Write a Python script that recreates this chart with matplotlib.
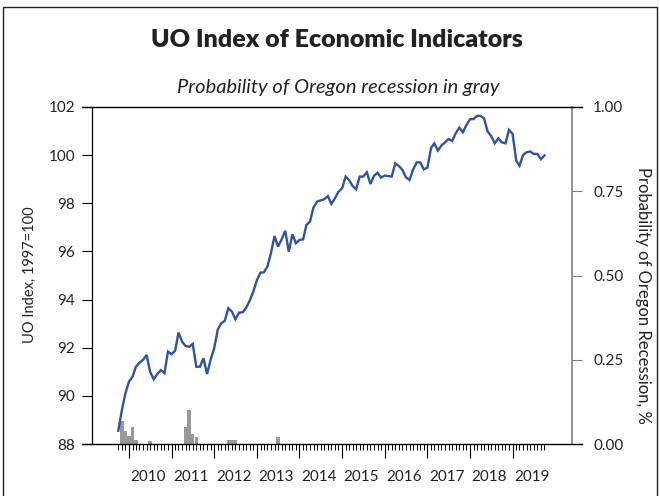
import numpy as np
import pandas as pd
import matplotlib
matplotlib.use("Agg")
import matplotlib.pyplot as plt
from matplotlib.patches import Rectangle

# ------------------------------------------------------------
# DATA (monthly, Oct 2009 - Oct 2019)
# ------------------------------------------------------------
START_MONTH = "2009-10-01"

uo_index = [
    88.55, 89.41, 90.10, 90.59, 90.80, 91.21, 91.38, 91.49, 91.70, 91.00,
    90.69, 90.91, 91.07, 90.94, 91.84, 91.73, 91.88, 92.63, 92.25, 92.07,
    92.04, 92.16, 91.21, 91.21, 91.56, 90.91, 91.49, 91.98, 92.76, 93.01,
    93.12, 93.64, 93.50, 93.18, 93.46, 93.47, 93.66, 93.96, 94.33, 94.81,
    95.12, 95.13, 95.37, 95.92, 96.64, 96.20, 96.50, 96.86, 95.99, 96.71,
    96.34, 96.48, 96.50, 97.10, 97.24, 97.83, 98.07, 98.12, 98.17, 98.30,
    97.97, 98.21, 98.48, 98.62, 99.11, 98.97, 98.72, 98.58, 99.11, 99.11,
    99.29, 98.80, 99.14, 99.27, 99.07, 99.15, 99.13, 99.11, 99.66, 99.55,
    99.39, 99.08, 98.97, 99.41, 99.70, 99.70, 99.41, 99.48, 100.29, 100.49,
    100.19, 100.40, 100.53, 100.67, 100.59, 100.91, 101.14, 100.95, 101.25, 101.49,
    101.50, 101.63, 101.63, 101.53, 100.98, 100.80, 100.49, 100.70, 100.53, 100.49,
    101.05, 100.88, 99.77, 99.56, 100.01, 100.12, 100.15, 100.05, 100.05, 99.83,
    99.99,
]

rec_months = [
    "2009-11", "2009-12", "2010-01", "2010-02", "2010-03", "2010-07",
    "2011-05", "2011-06", "2011-07", "2011-08",
    "2012-05", "2012-06", "2012-07", "2013-07",
]
rec_prob = [
    0.069, 0.040, 0.025, 0.049, 0.011, 0.010,
    0.049, 0.100, 0.031, 0.021,
    0.011, 0.011, 0.011, 0.021,
]

years = list(range(2010, 2020))

# ------------------------------------------------------------
# FIGURE
# ------------------------------------------------------------
W, H = 660, 496
fig = plt.figure(figsize=(W / 100, H / 100), dpi=100)
plt.rcParams["font.family"] = ["Lato", "DejaVu Sans"]

def px(x, y):
    return x / W, 1 - y / H

x0, y1 = px(92, 107)
x1, y0 = px(572, 444)
ax = fig.add_axes([x0, y0, x1 - x0, y1 - y0])
ax2 = ax.twinx()
ax.set_zorder(2)
ax2.set_zorder(1)
ax.patch.set_visible(False)

dates = pd.date_range(START_MONTH, periods=len(uo_index), freq="MS")
bar_dates = pd.to_datetime(rec_months)

ax2.bar(bar_dates, rec_prob, width=30, color="#999999", align="center")
ax.plot(dates, uo_index, color="#2f52a3", lw=1.7, solid_joinstyle="miter")

ax.set_ylim(88, 102)
ax2.set_ylim(0, 1)
ax.set_xlim(pd.Timestamp("2009-02-18"), pd.Timestamp("2020-05-24"))

# y ticks
ax.set_yticks(np.arange(88, 103, 2))
ax.tick_params(axis="y", length=7.2, width=0.8, pad=5, labelsize=11, colors="black",
               labelcolor="#222222")
ax2.set_yticks([0, 0.25, 0.5, 0.75, 1.0])
ax2.set_yticklabels([f"{v:.2f}" for v in [0, 0.25, 0.5, 0.75, 1.0]])
ax2.tick_params(axis="y", length=7.2, width=0.8, pad=8, labelsize=11,
                color="#808080", labelcolor="#222222")

# x ticks: months minor, January major
ax.set_xticks(pd.to_datetime([f"{y}-01-01" for y in years]))
ax.set_xticklabels([])
ax.set_xticks(dates, minor=True)
ax.tick_params(axis="x", which="major", length=10, width=0.8)
ax.tick_params(axis="x", which="minor", length=4.5, width=0.7)
ax2.tick_params(axis="x", which="both", length=0, labelbottom=False)

for y in years:
    ax.text(pd.Timestamp(f"{y}-06-15"), 86.63, str(y), ha="center", va="center",
            fontsize=11, color="#222222", transform=ax.transData, clip_on=False)

# spines
for a in (ax, ax2):
    a.spines["top"].set_visible(False)
    a.spines["bottom"].set_visible(False)
ax.spines["right"].set_visible(False)
ax2.spines["left"].set_visible(False)
ax.spines["left"].set_linewidth(0.9)
ax2.spines["right"].set_color("#808080")
ax2.spines["right"].set_linewidth(1.2)

ext = 10 / (572 - 92)
for yy in (0, 1):
    ax.plot([-ext, 1 + ext], [yy, yy], transform=ax.transAxes, color="black",
            lw=1.0, clip_on=False, zorder=5)

# labels
fig.text(*px(30, 275), "UO Index, 1997=100", rotation=90, ha="center",
         va="center", fontsize=10.5, color="#222222")
fig.text(*px(643, 295), "Probability of Oregon Recession, %", rotation=-90,
         ha="center", va="center", fontsize=12, color="#222222")

fig.text(*px(337, 40), "UO Index of Economic Indicators", ha="center",
         va="center", fontsize=18, fontweight="heavy", color="#222222")
fig.text(*px(338, 87), "Probability of Oregon recession in gray", ha="center",
         va="center", fontsize=14.5, style="italic", color="#222222")

# outer frame
fig.patches.append(Rectangle((3 / W, -0.1), (657 - 3) / W, 1.1 - 7 / H,
                             transform=fig.transFigure, fill=False,
                             edgecolor="#222222", lw=1.0))

fig.savefig("out.png", dpi=100)
